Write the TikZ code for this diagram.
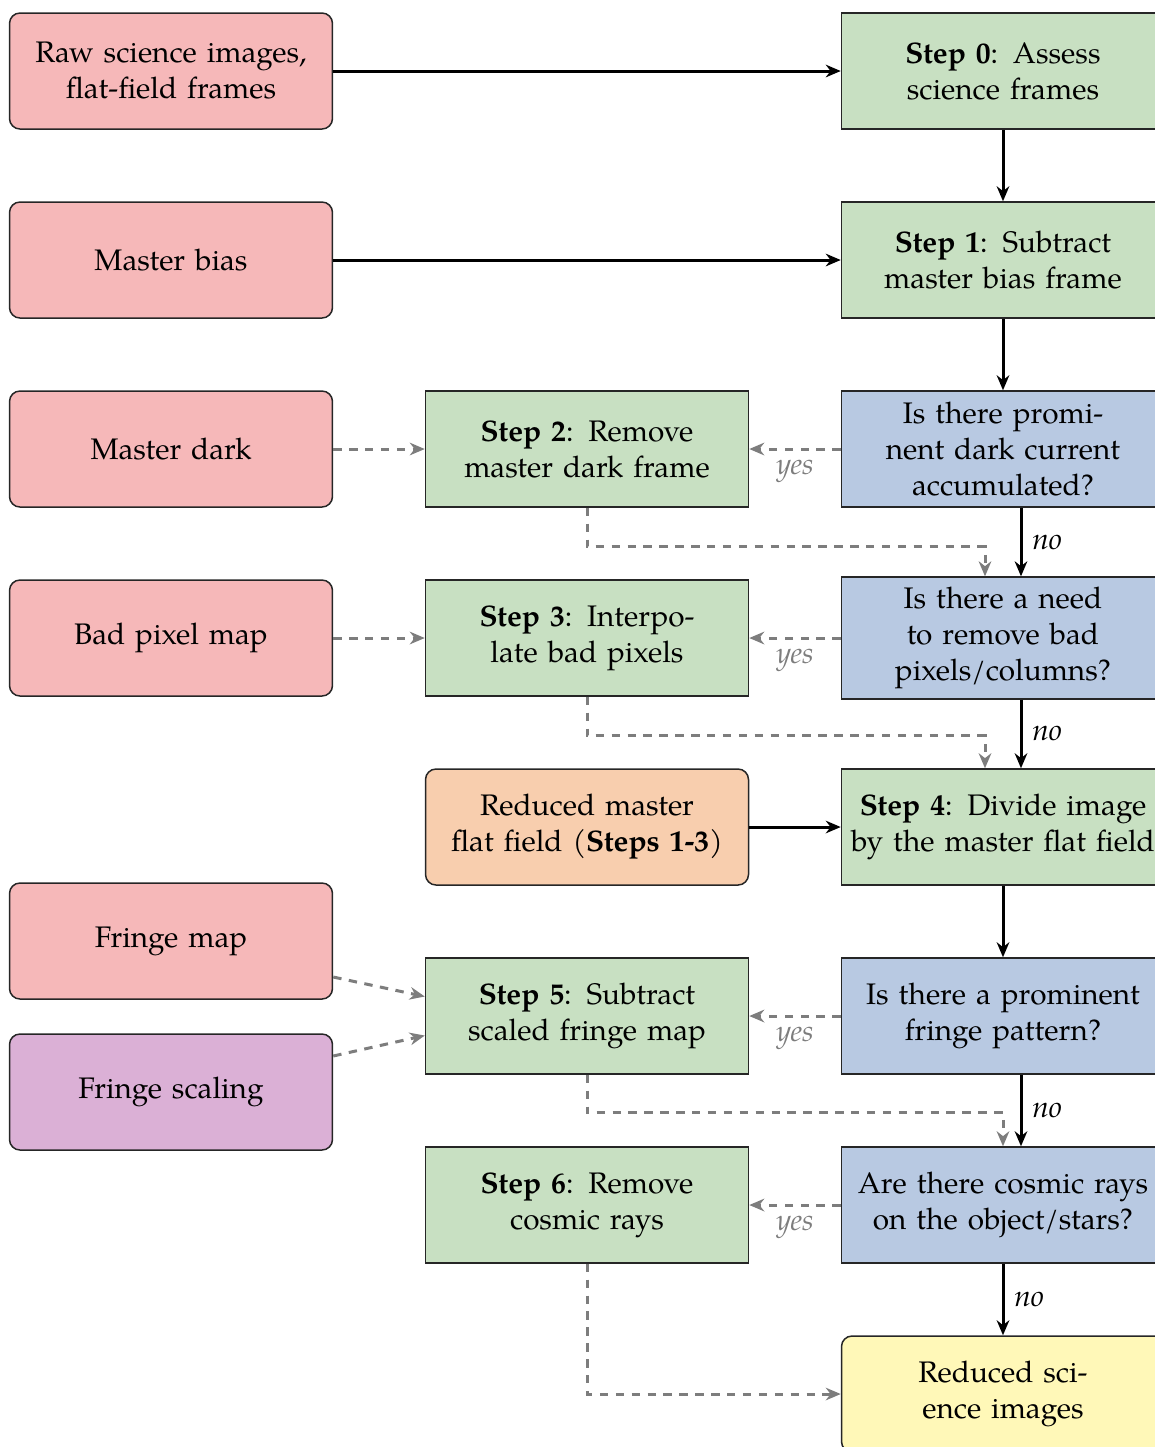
\documentclass[tikz,border=0pt]{standalone}
\usepackage{fontspec}
\setmainfont[Scale=0.99]{TeX Gyre Pagella}
\usetikzlibrary{arrows.meta}

\definecolor{inpink}{RGB}{246,184,185}
\definecolor{stepgreen}{RGB}{200,224,194}
\definecolor{askblue}{RGB}{184,201,226}
\definecolor{flatorange}{RGB}{248,206,174}
\definecolor{scalepurple}{RGB}{219,176,214}
\definecolor{outyellow}{RGB}{255,248,184}
\definecolor{optgray}{RGB}{125,125,125}

\tikzset{
  box/.style={draw=black!85, line width=0.5pt, text width=103pt, align=center,
    minimum height=38.67pt, inner xsep=2.33pt, inner ysep=3.33pt},
  inbox/.style={box, fill=inpink, rounded corners=3.5pt},
  stepbox/.style={box, fill=stepgreen},
  askbox/.style={box, fill=askblue},
  flatbox/.style={box, fill=flatorange, rounded corners=3.5pt},
  scalebox/.style={box, fill=scalepurple, rounded corners=3.5pt},
  outbox/.style={box, fill=outyellow, rounded corners=3.5pt},
  flow/.style={line width=1pt, -{Stealth[length=5pt,width=4.2pt]}},
  opt/.style={line width=1pt, optgray, dash pattern=on 2.8pt off 2.5pt,
    -{Stealth[length=5pt,width=4.2pt]}},
  yeslab/.style={text=optgray, font=\itshape, below},
  nolab/.style={font=\itshape, right},
}

\begin{document}
\begin{tikzpicture}
\useasboundingbox (0pt,0pt) rectangle (385pt,-482.33pt);

% left column: inputs
\node[inbox] (raw)   at (57pt,-23.67pt)  {Raw science images,\\flat-field frames};
\node[inbox] (bias)  at (57pt,-86.67pt)  {Master bias};
\node[inbox] (dark)  at (57pt,-149.67pt) {Master dark};
\node[inbox] (bpm)   at (57pt,-212.67pt) {Bad pixel map};
\node[inbox] (fmap)  at (57pt,-313.67pt) {Fringe map};
\node[scalebox] (fscale) at (57pt,-364pt) {Fringe scaling};

% middle column: optional steps
\node[stepbox] (s2) at (195.67pt,-149.67pt) {\textbf{Step 2}: Remove\\master dark frame};
\node[stepbox] (s3) at (195.67pt,-212.67pt) {\textbf{Step 3}: Interpo-\\late bad pixels};
\node[flatbox] (mflat) at (195.67pt,-275.67pt) {Reduced master\\flat field (\textbf{Steps 1-3})};
\node[stepbox] (s5) at (195.67pt,-338.67pt) {\textbf{Step 5}: Subtract\\scaled fringe map};
\node[stepbox] (s6) at (195.67pt,-401.67pt) {\textbf{Step 6}: Remove\\cosmic rays};

% right column: main line and decisions
\node[stepbox] (s0) at (334.33pt,-23.67pt)  {\textbf{Step 0}: Assess\\science frames};
\node[stepbox] (s1) at (334.33pt,-86.67pt)  {\textbf{Step 1}: Subtract\\master bias frame};
\node[askbox]  (q1) at (334.33pt,-149.67pt) {Is there promi-\\nent dark current\\accumulated?};
\node[askbox]  (q2) at (334.33pt,-212.67pt) {Is there a need\\to remove bad\\pixels/columns?};
\node[stepbox] (s4) at (334.33pt,-275.67pt) {\textbf{Step 4}: Divide image\\\mbox{by the master flat field}};
\node[askbox]  (q3) at (334.33pt,-338.67pt) {Is there a prominent\\fringe pattern?};
\node[askbox]  (q4) at (334.33pt,-401.67pt) {Are there cosmic rays\\on the object/stars?};
\node[outbox]  (red) at (334.33pt,-464.67pt) {Reduced sci-\\ence images};

% solid flow
\draw[flow] (raw) -- (s0);
\draw[flow] (bias) -- (s1);
\draw[flow] (s0) -- (s1);
\draw[flow] (s1) -- (q1);
\draw[flow] ([xshift=6pt]q1.south) -- node[nolab] {no} ([xshift=6pt]q2.north);
\draw[flow] ([xshift=6pt]q2.south) -- node[nolab] {no} ([xshift=6pt]s4.north);
\draw[flow] (mflat) -- (s4);
\draw[flow] (s4) -- (q3);
\draw[flow] ([xshift=6pt]q3.south) -- node[nolab] {no} ([xshift=6pt]q4.north);
\draw[flow] (q4) -- node[nolab] {no} (red);

% optional branches
\draw[opt] (dark) -- (s2);
\draw[opt] (bpm) -- (s3);
\draw[opt] ([yshift=-12pt]fmap.east) -- ([yshift=6.5pt]s5.west);
\draw[opt] ([yshift=12pt]fscale.east) -- ([yshift=-6.5pt]s5.west);
\draw[opt] (q1) -- node[yeslab] {yes} (s2);
\draw[opt] (q2) -- node[yeslab] {yes} (s3);
\draw[opt] (q3) -- node[yeslab] {yes} (s5);
\draw[opt] (q4) -- node[yeslab] {yes} (s6);
\draw[opt] (s2.south) -- ++(0,-13pt) -| ([xshift=-6pt]q2.north);
\draw[opt] (s3.south) -- ++(0,-13pt) -| ([xshift=-6pt]s4.north);
\draw[opt] (s5.south) -- ++(0,-12.7pt) -| (q4.north);
\draw[opt] (s6.south) |- (red.west);
\end{tikzpicture}
\end{document}
